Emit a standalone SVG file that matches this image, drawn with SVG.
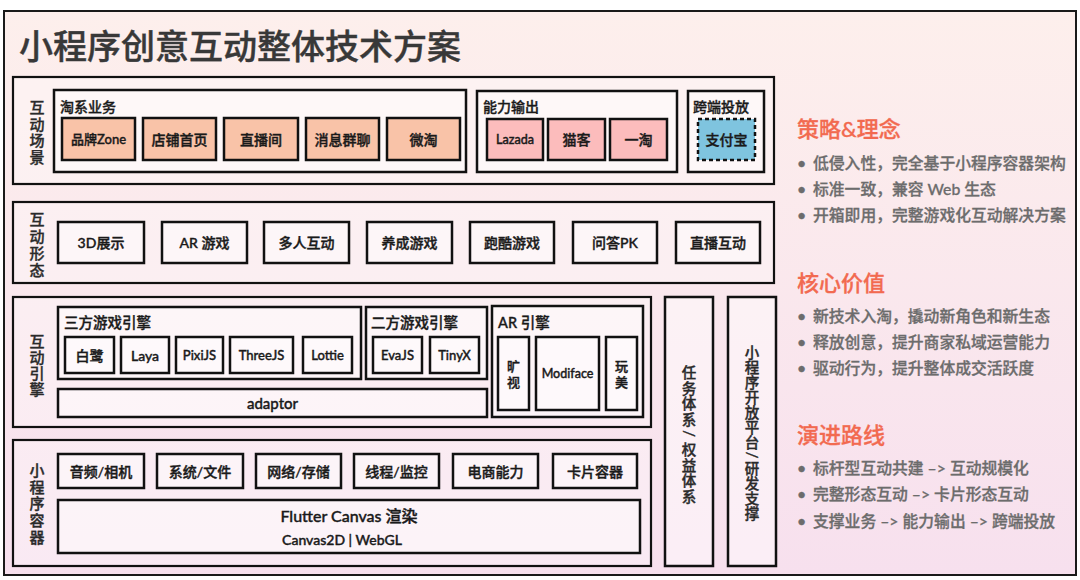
<svg xmlns="http://www.w3.org/2000/svg" width="1080" height="580" viewBox="0 0 1080 580">
<defs>
<linearGradient id="bg" x1="0" y1="0" x2="0" y2="1">
<stop offset="0" stop-color="#fdefec"/>
<stop offset="1" stop-color="#f7e0ee"/>
</linearGradient>
<style>
.frame{fill:url(#bg);stroke:#1a1a1a;stroke-width:2}
.sec{fill:#ffffff;fill-opacity:.3;stroke:#111;stroke-width:2.2}
.grp{fill:#ffffff;fill-opacity:.45;stroke:#111;stroke-width:2.5}
.box{fill:#ffffff;fill-opacity:.45;stroke:#111;stroke-width:2.5}
.peach{fill:#f9c3a8;stroke:#111;stroke-width:2.5}
.pink{fill:#fcbcbc;stroke:#111;stroke-width:2.5}
.blue{fill:#7fc4df;stroke:#111;stroke-width:2.5;stroke-dasharray:4 3}
text{font-family:Lato,"Noto Sans CJK SC",sans-serif}
.t{font-size:14px;font-weight:500;fill:#1a1a1a;stroke:#1a1a1a;stroke-width:0.4;text-anchor:middle;dominant-baseline:central}
.gl{font-size:14px;font-weight:500;fill:#1a1a1a;stroke:#1a1a1a;stroke-width:0.35;dominant-baseline:central}
.vl{font-size:15px;font-weight:500;fill:#2a2a2a;stroke:#2a2a2a;stroke-width:0.35;text-anchor:middle;dominant-baseline:central}
.vr{font-size:14.5px;font-weight:500;fill:#2a2a2a;stroke:#2a2a2a;stroke-width:0.35;text-anchor:middle;dominant-baseline:central}
.title{font-size:34px;font-weight:500;fill:#383838;stroke:#383838;stroke-width:0.4;dominant-baseline:central}
.h{font-size:22px;font-weight:500;fill:#f26a50;stroke:#f26a50;stroke-width:0.3;dominant-baseline:central}
.b{font-size:15.8px;font-weight:500;fill:#6c6c6c;stroke:#6c6c6c;stroke-width:0.3;dominant-baseline:central}
</style>
</defs>
<rect class="frame" x="4" y="11" width="1072" height="564"/>
<text class="title" x="19" y="45">小程序创意互动整体技术方案</text>

<g id="sec-scene">
<rect class="sec" x="13" y="77" width="761" height="107"/>
<text class="vl"><tspan x="37" y="107">互</tspan><tspan x="37" y="123.5">动</tspan><tspan x="37" y="140">场</tspan><tspan x="37" y="156.5">景</tspan></text>
</g>
<g id="grp-taoxi">
<rect class="grp" x="54" y="90" width="412" height="82"/>
<text class="gl" x="60" y="106">淘系业务</text>
</g>
<g id="n-brand"><rect class="peach" x="62" y="118" width="73" height="42"/><text class="t" x="98.5" y="139" style="font-size:13px">品牌Zone</text></g>
<g id="n-shop"><rect class="peach" x="143" y="118" width="73" height="42"/><text class="t" x="179.5" y="139">店铺首页</text></g>
<g id="n-live"><rect class="peach" x="224" y="118" width="74" height="42"/><text class="t" x="261" y="139">直播间</text></g>
<g id="n-msg"><rect class="peach" x="306" y="118" width="73" height="42"/><text class="t" x="342.5" y="139">消息群聊</text></g>
<g id="n-weitao"><rect class="peach" x="387" y="118" width="73" height="42"/><text class="t" x="423.5" y="139">微淘</text></g>

<g id="grp-output">
<rect class="grp" x="477" y="91" width="200" height="81"/>
<text class="gl" x="483" y="106">能力输出</text>
</g>
<g id="n-lazada"><rect class="pink" x="487" y="119" width="56" height="41"/><text class="t" x="515" y="139.5" style="font-size:12.5px">Lazada</text></g>
<g id="n-maoke"><rect class="pink" x="548" y="119" width="57" height="41"/><text class="t" x="576.5" y="139.5">猫客</text></g>
<g id="n-yitao"><rect class="pink" x="610" y="119" width="57" height="41"/><text class="t" x="638.5" y="139.5">一淘</text></g>

<g id="grp-cross">
<rect class="grp" x="688" y="91" width="76" height="81"/>
<text class="gl" x="693" y="106">跨端投放</text>
</g>
<g id="n-alipay"><rect class="blue" x="698" y="119" width="57" height="41"/><text class="t" x="726.5" y="139.5">支付宝</text></g>

<g id="sec-form">
<rect class="sec" x="13" y="202" width="761" height="81"/>
<text class="vl"><tspan x="37" y="219">互</tspan><tspan x="37" y="236">动</tspan><tspan x="37" y="253">形</tspan><tspan x="37" y="270">态</tspan></text>
</g>
<g id="n-3d"><rect class="box" x="58" y="222" width="86" height="41"/><text class="t" x="101" y="242.5">3D展示</text></g>
<g id="n-ar"><rect class="box" x="162" y="222" width="85" height="41"/><text class="t" x="204.5" y="242.5">AR 游戏</text></g>
<g id="n-multi"><rect class="box" x="264" y="222" width="85" height="41"/><text class="t" x="306.5" y="242.5">多人互动</text></g>
<g id="n-raise"><rect class="box" x="367" y="222" width="85" height="41"/><text class="t" x="409.5" y="242.5">养成游戏</text></g>
<g id="n-parkour"><rect class="box" x="470" y="222" width="84" height="41"/><text class="t" x="512" y="242.5">跑酷游戏</text></g>
<g id="n-quiz"><rect class="box" x="573" y="222" width="84" height="41"/><text class="t" x="615" y="242.5">问答PK</text></g>
<g id="n-liveint"><rect class="box" x="676" y="222" width="84" height="41"/><text class="t" x="718" y="242.5">直播互动</text></g>

<g id="sec-engine">
<rect class="sec" x="13" y="297" width="638" height="130"/>
<text class="vl"><tspan x="37" y="341">互</tspan><tspan x="37" y="357">动</tspan><tspan x="37" y="373">引</tspan><tspan x="37" y="389">擎</tspan></text>
</g>
<g id="grp-third">
<rect class="grp" x="58" y="307" width="303" height="72"/>
<text class="gl" x="64" y="322" style="font-size:14.5px">三方游戏引擎</text>
</g>
<g id="n-egret"><rect class="box" x="65" y="337" width="49" height="36"/><text class="t" x="89.5" y="355">白鹭</text></g>
<g id="n-laya"><rect class="box" x="121" y="337" width="48" height="36"/><text class="t" x="145" y="355">Laya</text></g>
<g id="n-pixi"><rect class="box" x="176" y="337" width="47" height="36"/><text class="t" x="199.5" y="355" style="font-size:13px">PixiJS</text></g>
<g id="n-three"><rect class="box" x="230" y="337" width="63" height="36"/><text class="t" x="261.5" y="355" style="font-size:13px">ThreeJS</text></g>
<g id="n-lottie"><rect class="box" x="303" y="337" width="49" height="36"/><text class="t" x="327.5" y="355" style="font-size:13px">Lottie</text></g>
<g id="grp-second">
<rect class="grp" x="366" y="307" width="121" height="72"/>
<text class="gl" x="371" y="322" style="font-size:14.5px">二方游戏引擎</text>
</g>
<g id="n-eva"><rect class="box" x="373" y="337" width="49" height="36"/><text class="t" x="397.5" y="355" style="font-size:13px">EvaJS</text></g>
<g id="n-tinyx"><rect class="box" x="430" y="337" width="49" height="36"/><text class="t" x="454.5" y="355" style="font-size:13px">TinyX</text></g>
<g id="n-adaptor"><rect class="box" x="58" y="389" width="429" height="28"/><text class="t" x="272.5" y="403" style="font-size:15px">adaptor</text></g>
<g id="grp-ar">
<rect class="grp" x="492" y="306" width="151" height="111"/>
<text class="gl" x="498" y="322" style="font-size:14.5px">AR 引擎</text>
</g>
<g id="n-kuangshi"><rect class="box" x="498" y="337" width="31" height="73"/><text class="t" style="font-size:13px"><tspan x="513.5" y="366">旷</tspan><tspan x="513.5" y="382">视</tspan></text></g>
<g id="n-modiface"><rect class="box" x="536" y="337" width="63" height="73"/><text class="t" x="567.5" y="373" style="font-size:12.5px">Modiface</text></g>
<g id="n-wanmei"><rect class="box" x="606" y="337" width="31" height="73"/><text class="t" style="font-size:13px"><tspan x="621.5" y="366">玩</tspan><tspan x="621.5" y="382">美</tspan></text></g>

<g id="sec-container">
<rect class="sec" x="13" y="440" width="638" height="126"/>
<text class="vl"><tspan x="37" y="470">小</tspan><tspan x="37" y="487">程</tspan><tspan x="37" y="503">序</tspan><tspan x="37" y="520">容</tspan><tspan x="37" y="537">器</tspan></text>
</g>
<g id="n-audio"><rect class="box" x="58" y="454" width="86" height="34"/><text class="t" x="101" y="471">音频/相机</text></g>
<g id="n-system"><rect class="box" x="157" y="454" width="86" height="34"/><text class="t" x="200" y="471">系统/文件</text></g>
<g id="n-network"><rect class="box" x="256" y="454" width="85" height="34"/><text class="t" x="298.5" y="471">网络/存储</text></g>
<g id="n-thread"><rect class="box" x="354" y="454" width="85" height="34"/><text class="t" x="396.5" y="471">线程/监控</text></g>
<g id="n-ecom"><rect class="box" x="453" y="454" width="85" height="34"/><text class="t" x="495.5" y="471">电商能力</text></g>
<g id="n-card"><rect class="box" x="553" y="454" width="84" height="34"/><text class="t" x="595" y="471">卡片容器</text></g>
<g id="n-flutter"><rect class="box" x="58" y="500" width="582" height="53"/>
<text class="t" x="349" y="515" style="font-size:16px">Flutter Canvas 渲染</text>
<text class="t" x="342" y="539" style="font-size:14px">Canvas2D | WebGL</text></g>

<g id="n-task">
<rect class="box" x="665" y="297" width="48" height="269"/>
<text class="vr"><tspan x="689" y="372">任</tspan><tspan x="689" y="387.5">务</tspan><tspan x="689" y="403">体</tspan><tspan x="689" y="418.5">系</tspan><tspan x="689" y="449">权</tspan><tspan x="689" y="464.5">益</tspan><tspan x="689" y="480">体</tspan><tspan x="689" y="495.5">系</tspan></text>
<text class="vr" transform="translate(689,433.5) rotate(90)">/</text>
</g>
<g id="n-platform">
<rect class="box" x="728" y="297" width="48" height="269"/>
<text class="vr"><tspan x="752" y="352">小</tspan><tspan x="752" y="367">程</tspan><tspan x="752" y="382">序</tspan><tspan x="752" y="397">开</tspan><tspan x="752" y="412">放</tspan><tspan x="752" y="427">平</tspan><tspan x="752" y="442">台</tspan><tspan x="752" y="468">研</tspan><tspan x="752" y="483">发</tspan><tspan x="752" y="498">支</tspan><tspan x="752" y="513">撑</tspan></text>
<text class="vr" transform="translate(752,455) rotate(90)">/</text>
</g>

<g id="connectors"></g>

<g id="notes">
<text class="h" x="797" y="128">策略&amp;理念</text>
<text class="b" x="797" y="162"><tspan>•</tspan><tspan x="813">低侵入性，完全基于小程序容器架构</tspan></text>
<text class="b" x="797" y="188"><tspan>•</tspan><tspan x="813">标准一致，兼容 Web 生态</tspan></text>
<text class="b" x="797" y="214"><tspan>•</tspan><tspan x="813">开箱即用，完整游戏化互动解决方案</tspan></text>
<text class="h" x="797" y="282">核心价值</text>
<text class="b" x="797" y="315"><tspan>•</tspan><tspan x="813">新技术入淘，撬动新角色和新生态</tspan></text>
<text class="b" x="797" y="341"><tspan>•</tspan><tspan x="813">释放创意，提升商家私域运营能力</tspan></text>
<text class="b" x="797" y="367"><tspan>•</tspan><tspan x="813">驱动行为，提升整体成交活跃度</tspan></text>
<text class="h" x="797" y="434">演进路线</text>
<text class="b" x="797" y="467"><tspan>•</tspan><tspan x="813">标杆型互动共建 –&gt; 互动规模化</tspan></text>
<text class="b" x="797" y="493"><tspan>•</tspan><tspan x="813">完整形态互动 –&gt; 卡片形态互动</tspan></text>
<text class="b" x="797" y="520"><tspan>•</tspan><tspan x="813">支撑业务 –&gt; 能力输出 –&gt; 跨端投放</tspan></text>
</g>
</svg>
